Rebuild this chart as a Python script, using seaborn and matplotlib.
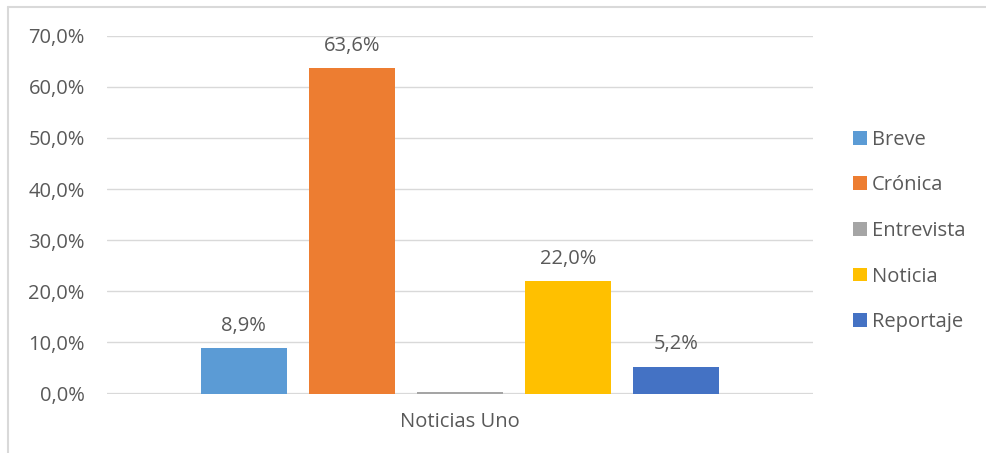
import matplotlib
matplotlib.use("Agg")
import matplotlib.pyplot as plt
from matplotlib.lines import Line2D
from matplotlib.ticker import FuncFormatter
import seaborn as sns
import pandas as pd

grupo = ["Noticias Uno"] * 5
generos = ["Breve", "Crónica", "Entrevista", "Noticia", "Reportaje"]
porcentajes = [8.9, 63.6, 0.3, 22.0, 5.2]
colores = ["#5B9BD5", "#ED7D31", "#A5A5A5", "#FFC000", "#4472C4"]
etiquetas = ["8,9%", "63,6%", "", "22,0%", "5,2%"]

df = pd.DataFrame({"medio": grupo, "genero": generos, "valor": porcentajes})

sns.set_style("white")
plt.rcParams["font.family"] = ["Open Sans", "DejaVu Sans"]
gris = "#595959"
fs = 14.5

fig = plt.figure(figsize=(9.86, 4.53), dpi=100)
ax = fig.add_axes([0.1085, 0.1313, 0.716, 0.790])

sns.barplot(data=df, x="medio", y="valor", hue="genero", palette=colores,
            width=0.766, gap=0.2037, ax=ax, saturation=1, linewidth=0)

ax.set_ylim(0, 70)
ax.set_yticks(range(0, 71, 10))
ax.yaxis.set_major_formatter(FuncFormatter(lambda v, p: f"{v:.1f}%".replace(".", ",")))
ax.grid(axis="y", color="#D9D9D9", linewidth=1.0)
ax.axhline(0, color="#D9D9D9", linewidth=1.6, zorder=0.5)
ax.set_axisbelow(True)
for s in ax.spines.values():
    s.set_visible(False)
ax.tick_params(axis="y", length=0, pad=16, labelsize=fs, labelcolor=gris)
ax.tick_params(axis="x", length=0, pad=13, labelsize=fs, labelcolor=gris)
ax.set_xlabel("")
ax.set_ylabel("")

for cont, lab in zip(ax.containers, etiquetas):
    ax.bar_label(cont, labels=[lab], padding=9, fontsize=fs, color=gris)

handles, labels = ax.get_legend_handles_labels()
ax.legend(handles, labels, loc="center left", bbox_to_anchor=(0.847, 0.49),
          bbox_transform=fig.transFigure, frameon=False, fontsize=fs,
          labelcolor=gris, handlelength=0.68, handleheight=0.68,
          handletextpad=0.26, labelspacing=1.27)

# marco exterior (solo arriba e izquierda visibles)
fig.add_artist(Line2D([7.5 / 986, 1], [1 - 6.5 / 453] * 2, transform=fig.transFigure,
                      color="#D9D9D9", linewidth=1.5))
fig.add_artist(Line2D([7.5 / 986] * 2, [0, 1 - 6.5 / 453], transform=fig.transFigure,
                      color="#D9D9D9", linewidth=1.5))

fig.savefig("out.png", dpi=100)
